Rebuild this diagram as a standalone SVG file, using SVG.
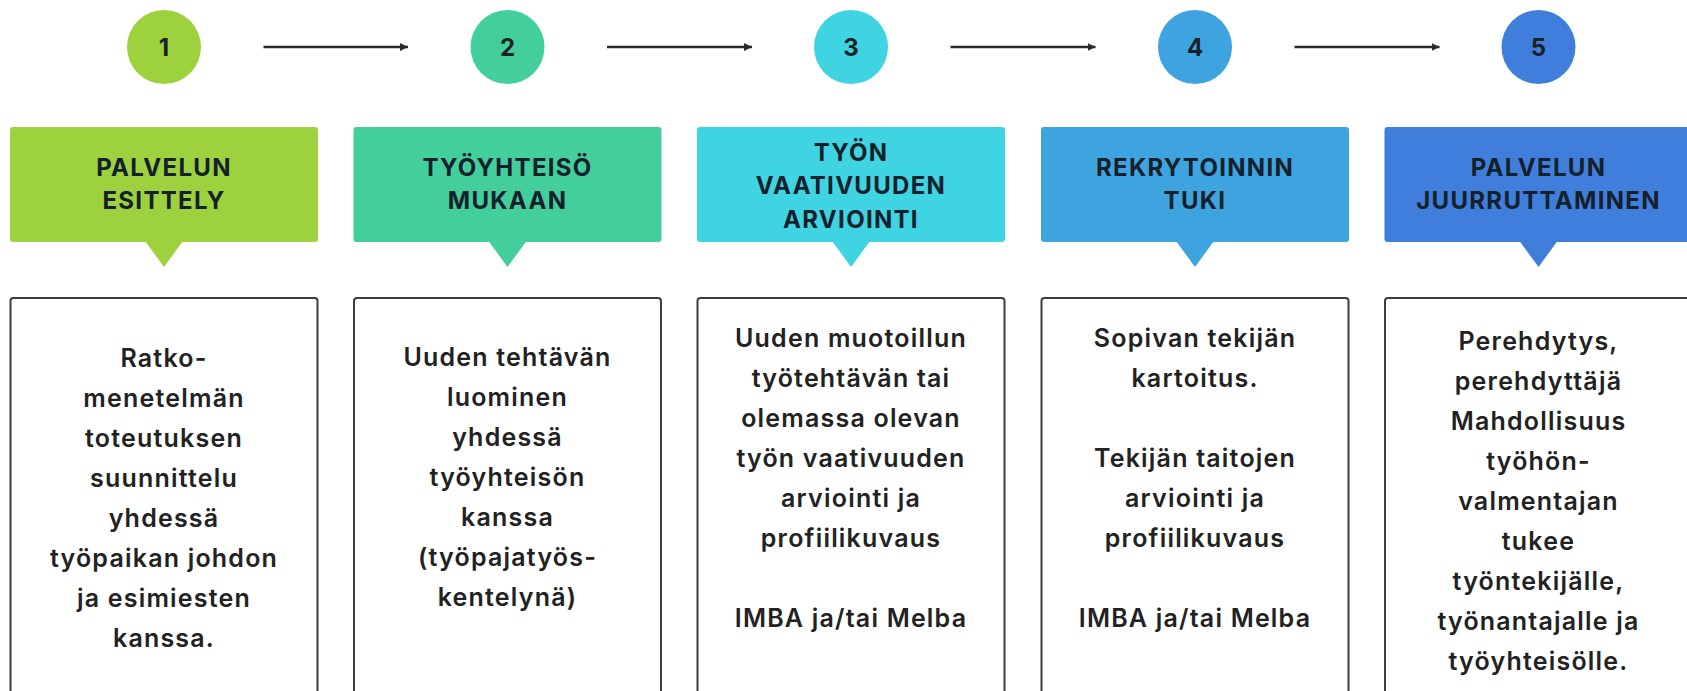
<svg xmlns="http://www.w3.org/2000/svg" width="1687" height="691" viewBox="0 0 1687 691">
<defs>
<style>
.num{font-family:Inter,"Liberation Sans",sans-serif;font-weight:700;font-size:24px;fill:#1b2026;text-anchor:middle}
.hd{font-family:Inter,"Liberation Sans",sans-serif;font-weight:700;font-size:24px;letter-spacing:1.3px;fill:#14202b;text-anchor:middle}
.bd{font-family:Inter,"Liberation Sans",sans-serif;font-weight:600;font-size:25px;letter-spacing:1.2px;fill:#222;text-anchor:middle}
.card{fill:#fff;stroke:#3c3c3c;stroke-width:2}
.conn{stroke:#2a2a2a;stroke-width:2.5;fill:none}
.c1{fill:#9dd23e}.c2{fill:#43cf9c}.c3{fill:#3ed4e2}.c4{fill:#3ea4e0}.c5{fill:#3f7fdb}
</style>
<marker id="ah" markerUnits="userSpaceOnUse" markerWidth="9" markerHeight="9" refX="8" refY="4.5" orient="auto">
<path d="M0,0.5 L8,4.5 L0,8.5 z" fill="#2a2a2a"/>
</marker>
</defs>
<rect width="1687" height="691" fill="#fff"/>
<g id="connectors">
<line class="conn" x1="263.5" y1="47" x2="408" y2="47" marker-end="url(#ah)"/>
<line class="conn" x1="607" y1="47" x2="752" y2="47" marker-end="url(#ah)"/>
<line class="conn" x1="950.5" y1="47" x2="1095.5" y2="47" marker-end="url(#ah)"/>
<line class="conn" x1="1294.5" y1="47" x2="1439.5" y2="47" marker-end="url(#ah)"/>
</g>
<g id="step1">
<circle class="c1" cx="164" cy="47" r="37"/>
<text class="num" x="164" y="56">1</text>
<rect class="c1" x="10" y="127" width="308" height="115" rx="3"/>
<path class="c1" d="M145,241 L183,241 L164,267 z"/>
<text class="hd" x="164" y="176">PALVELUN</text>
<text class="hd" x="164" y="209.3">ESITTELY</text>
<rect class="card" x="10.5" y="298" width="307" height="420" rx="3"/>
<text class="bd" x="164" y="366.7">Ratko-</text>
<text class="bd" x="164" y="406.7">menetelmän</text>
<text class="bd" x="164" y="446.7">toteutuksen</text>
<text class="bd" x="164" y="486.7">suunnittelu</text>
<text class="bd" x="164" y="526.7">yhdessä</text>
<text class="bd" x="164" y="566.7">työpaikan johdon</text>
<text class="bd" x="164" y="606.7">ja esimiesten</text>
<text class="bd" x="164" y="646.7">kanssa.</text>
</g>
<g id="step2">
<circle class="c2" cx="507.5" cy="47" r="37"/>
<text class="num" x="507.5" y="56">2</text>
<rect class="c2" x="353.5" y="127" width="308" height="115" rx="3"/>
<path class="c2" d="M488.5,241 L526.5,241 L507.5,267 z"/>
<text class="hd" x="507.5" y="176">TYÖYHTEISÖ</text>
<text class="hd" x="507.5" y="209.3">MUKAAN</text>
<rect class="card" x="354" y="298" width="307" height="420" rx="3"/>
<text class="bd" x="507.5" y="366">Uuden tehtävän</text>
<text class="bd" x="507.5" y="406">luominen</text>
<text class="bd" x="507.5" y="446">yhdessä</text>
<text class="bd" x="507.5" y="486">työyhteisön</text>
<text class="bd" x="507.5" y="526">kanssa</text>
<text class="bd" x="507.5" y="566">(työpajatyös-</text>
<text class="bd" x="507.5" y="606">kentelynä)</text>
</g>
<g id="step3">
<circle class="c3" cx="851" cy="47" r="37"/>
<text class="num" x="851" y="56">3</text>
<rect class="c3" x="697" y="127" width="308" height="115" rx="3"/>
<path class="c3" d="M832,241 L870,241 L851,267 z"/>
<text class="hd" x="851" y="161">TYÖN</text>
<text class="hd" x="851" y="194.3">VAATIVUUDEN</text>
<text class="hd" x="851" y="227.7">ARVIOINTI</text>
<rect class="card" x="697.5" y="298" width="307" height="420" rx="3"/>
<text class="bd" x="851" y="347">Uuden muotoillun</text>
<text class="bd" x="851" y="387">työtehtävän tai</text>
<text class="bd" x="851" y="427">olemassa olevan</text>
<text class="bd" x="851" y="467">työn vaativuuden</text>
<text class="bd" x="851" y="507">arviointi ja</text>
<text class="bd" x="851" y="547">profiilikuvaus</text>
<text class="bd" x="851" y="627">IMBA ja/tai Melba</text>
</g>
<g id="step4">
<circle class="c4" cx="1195" cy="47" r="37"/>
<text class="num" x="1195" y="56">4</text>
<rect class="c4" x="1041" y="127" width="308" height="115" rx="3"/>
<path class="c4" d="M1176,241 L1214,241 L1195,267 z"/>
<text class="hd" x="1195" y="176">REKRYTOINNIN</text>
<text class="hd" x="1195" y="209.3">TUKI</text>
<rect class="card" x="1041.5" y="298" width="307" height="420" rx="3"/>
<text class="bd" x="1195" y="347">Sopivan tekijän</text>
<text class="bd" x="1195" y="387">kartoitus.</text>
<text class="bd" x="1195" y="467">Tekijän taitojen</text>
<text class="bd" x="1195" y="507">arviointi ja</text>
<text class="bd" x="1195" y="547">profiilikuvaus</text>
<text class="bd" x="1195" y="627">IMBA ja/tai Melba</text>
</g>
<g id="step5">
<circle class="c5" cx="1538.5" cy="47" r="37"/>
<text class="num" x="1538.5" y="56">5</text>
<rect class="c5" x="1384.5" y="127" width="308" height="115" rx="3"/>
<path class="c5" d="M1519.5,241 L1557.5,241 L1538.5,267 z"/>
<text class="hd" x="1538.5" y="176">PALVELUN</text>
<text class="hd" x="1538.5" y="209.3">JUURRUTTAMINEN</text>
<rect class="card" x="1385" y="298" width="307" height="420" rx="3"/>
<text class="bd" x="1538.5" y="350">Perehdytys,</text>
<text class="bd" x="1538.5" y="390">perehdyttäjä</text>
<text class="bd" x="1538.5" y="430">Mahdollisuus</text>
<text class="bd" x="1538.5" y="470">työhön-</text>
<text class="bd" x="1538.5" y="510">valmentajan</text>
<text class="bd" x="1538.5" y="550">tukee</text>
<text class="bd" x="1538.5" y="590">työntekijälle,</text>
<text class="bd" x="1538.5" y="630">työnantajalle ja</text>
<text class="bd" x="1538.5" y="670">työyhteisölle.</text>
</g>
</svg>
